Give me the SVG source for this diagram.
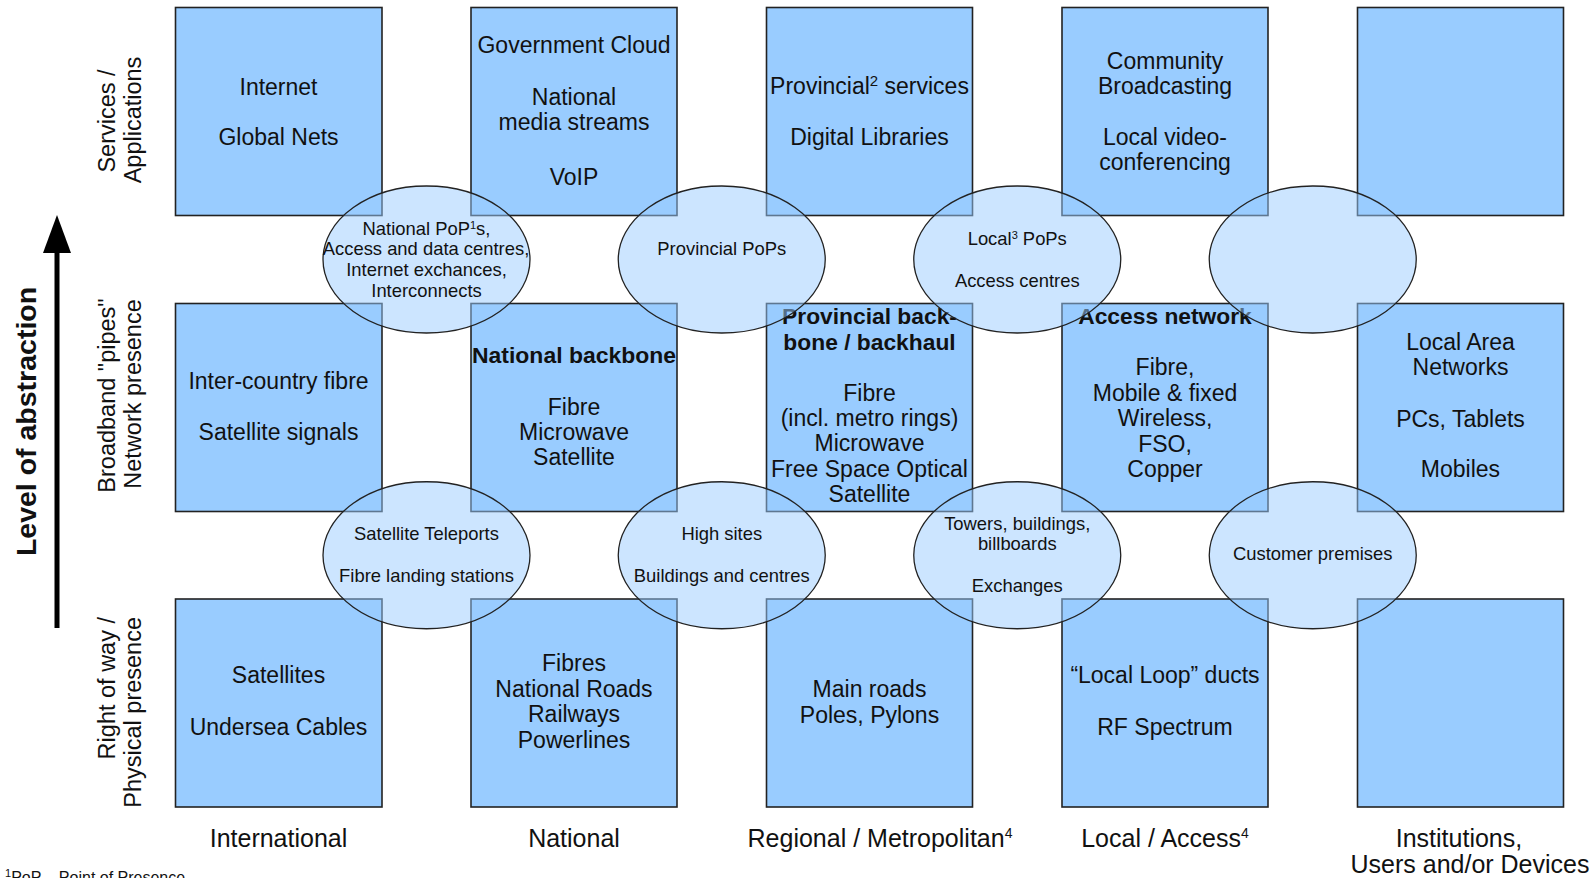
<svg xmlns="http://www.w3.org/2000/svg" width="1596" height="878" viewBox="0 0 1596 878">
<style>
  text { font-family: "Liberation Sans", Arial, sans-serif; fill: #111; }
  .t { font-size: 23px; text-anchor: middle; }
  .b { font-size: 22.8px; text-anchor: middle; font-weight: bold; }
  .e { font-size: 18.4px; text-anchor: middle; }
  .l { font-size: 25px; text-anchor: middle; }
  .r { font-size: 23.5px; text-anchor: middle; }
  .box { fill: #99ccff; stroke: #222; stroke-width: 1.6; }
  .ell { fill: #99ccff; fill-opacity: 0.5; stroke: #222; stroke-width: 1.3; }
</style>
<rect width="1596" height="878" fill="#ffffff"/>

<!-- axis -->
<g id="axis">
  <line x1="57" y1="628" x2="57" y2="250" stroke="#000" stroke-width="5"/>
  <polygon points="57,215 43,253 71,253" fill="#000"/>
  <text transform="translate(36,421.5) rotate(-90)" text-anchor="middle" font-size="28.5" font-weight="bold">Level of abstraction</text>
</g>

<!-- row labels -->
<g id="row-labels">
  <text class="r" transform="translate(114.5,121) rotate(-90)">Services /</text>
  <text class="r" transform="translate(140.5,120) rotate(-90)">Applications</text>
  <text class="r" transform="translate(114.5,395.5) rotate(-90)">Broadband "pipes"</text>
  <text class="r" transform="translate(140.5,394) rotate(-90)">Network presence</text>
  <text class="r" transform="translate(114.5,617) rotate(-90)" style="text-anchor:end">Right of way /</text>
  <text class="r" transform="translate(140.5,617) rotate(-90)" style="text-anchor:end">Physical presence</text>
</g>

<!-- row 1 -->
<g id="n-intl-services">
  <rect class="box" x="175.5" y="7.5" width="206.5" height="208"/>
  <text class="t" x="278.5" y="94.5">Internet</text>
  <text class="t" x="278.5" y="145">Global Nets</text>
</g>
<g id="n-natl-services">
  <rect class="box" x="471" y="7.5" width="206" height="208"/>
  <text class="t" x="574" y="53">Government Cloud</text>
  <text class="t" x="574" y="105">National</text>
  <text class="t" x="574" y="130">media streams</text>
  <text class="t" x="574" y="185">VoIP</text>
</g>
<g id="n-reg-services">
  <rect class="box" x="766.5" y="7.5" width="206" height="208"/>
  <text class="t" x="869.5" y="93.5">Provincial<tspan dy="-8" font-size="15">2</tspan><tspan dy="8"> services</tspan></text>
  <text class="t" x="869.5" y="145">Digital Libraries</text>
</g>
<g id="n-local-services">
  <rect class="box" x="1062" y="7.5" width="206" height="208"/>
  <text class="t" x="1165" y="68.5">Community</text>
  <text class="t" x="1165" y="93.5">Broadcasting</text>
  <text class="t" x="1165" y="145">Local video-</text>
  <text class="t" x="1165" y="170">conferencing</text>
</g>
<g id="n-inst-services">
  <rect class="box" x="1357.5" y="7.5" width="206" height="208"/>
</g>

<!-- row 2 -->
<g id="n-intl-pipes">
  <rect class="box" x="175.5" y="303.5" width="206.5" height="208"/>
  <text class="t" x="278.5" y="388.5">Inter-country fibre</text>
  <text class="t" x="278.5" y="439.5">Satellite signals</text>
</g>
<g id="n-natl-pipes">
  <rect class="box" x="471" y="303.5" width="206" height="208"/>
  <text class="b" x="574" y="363" textLength="204" lengthAdjust="spacingAndGlyphs">National backbone</text>
  <text class="t" x="574" y="415">Fibre</text>
  <text class="t" x="574" y="439.5">Microwave</text>
  <text class="t" x="574" y="464.5">Satellite</text>
</g>
<g id="n-reg-pipes">
  <rect class="box" x="766.5" y="303.5" width="206" height="208"/>
  <text class="b" x="869.5" y="324">Provincial back-</text>
  <text class="b" x="869.5" y="350">bone / backhaul</text>
  <text class="t" x="869.5" y="400.5">Fibre</text>
  <text class="t" x="869.5" y="425.5">(incl. metro rings)</text>
  <text class="t" x="869.5" y="451">Microwave</text>
  <text class="t" x="869.5" y="476.5">Free Space Optical</text>
  <text class="t" x="869.5" y="502">Satellite</text>
</g>
<g id="n-local-pipes">
  <rect class="box" x="1062" y="303.5" width="206" height="208"/>
  <text class="b" x="1165" y="324">Access network</text>
  <text class="t" x="1165" y="375">Fibre,</text>
  <text class="t" x="1165" y="400.5">Mobile &amp; fixed</text>
  <text class="t" x="1165" y="426">Wireless,</text>
  <text class="t" x="1165" y="451.5">FSO,</text>
  <text class="t" x="1165" y="477">Copper</text>
</g>
<g id="n-inst-pipes">
  <rect class="box" x="1357.5" y="303.5" width="206" height="208"/>
  <text class="t" x="1460.5" y="350">Local Area</text>
  <text class="t" x="1460.5" y="375">Networks</text>
  <text class="t" x="1460.5" y="426.5">PCs, Tablets</text>
  <text class="t" x="1460.5" y="477">Mobiles</text>
</g>

<!-- row 3 -->
<g id="n-intl-row">
  <rect class="box" x="175.5" y="599" width="206.5" height="208"/>
  <text class="t" x="278.5" y="683">Satellites</text>
  <text class="t" x="278.5" y="735">Undersea Cables</text>
</g>
<g id="n-natl-row">
  <rect class="box" x="471" y="599" width="206" height="208"/>
  <text class="t" x="574" y="671">Fibres</text>
  <text class="t" x="574" y="696.5">National Roads</text>
  <text class="t" x="574" y="722">Railways</text>
  <text class="t" x="574" y="747.5">Powerlines</text>
</g>
<g id="n-reg-row">
  <rect class="box" x="766.5" y="599" width="206" height="208"/>
  <text class="t" x="869.5" y="697">Main roads</text>
  <text class="t" x="869.5" y="722.5">Poles, Pylons</text>
</g>
<g id="n-local-row">
  <rect class="box" x="1062" y="599" width="206" height="208"/>
  <text class="t" x="1165" y="683">“Local Loop” ducts</text>
  <text class="t" x="1165" y="735">RF Spectrum</text>
</g>
<g id="n-inst-row">
  <rect class="box" x="1357.5" y="599" width="206" height="208"/>
</g>

<!-- ellipses (interfaces) -->
<g id="e-natl-pops">
  <ellipse class="ell" cx="426.5" cy="259.5" rx="103.5" ry="73.5"/>
  <text class="e" x="426.5" y="234.5">National PoP<tspan dy="-6" font-size="11">1</tspan><tspan dy="6">s,</tspan></text>
  <text class="e" x="426" y="255">Access and data centres,</text>
  <text class="e" x="426.5" y="276">Internet exchances,</text>
  <text class="e" x="426.5" y="296.5">Interconnects</text>
</g>
<g id="e-prov-pops">
  <ellipse class="ell" cx="721.75" cy="259.5" rx="103.5" ry="73.5"/>
  <text class="e" x="721.75" y="254.5">Provincial PoPs</text>
</g>
<g id="e-local-pops">
  <ellipse class="ell" cx="1017.25" cy="259.5" rx="103.5" ry="73.5"/>
  <text class="e" x="1017.25" y="245">Local<tspan dy="-6" font-size="11">3</tspan><tspan dy="6"> PoPs</tspan></text>
  <text class="e" x="1017.25" y="286.5">Access centres</text>
</g>
<g id="e-inst-pops">
  <ellipse class="ell" cx="1312.75" cy="259.5" rx="103.5" ry="73.5"/>
</g>
<g id="e-teleports">
  <ellipse class="ell" cx="426.5" cy="555.25" rx="103.5" ry="73.5"/>
  <text class="e" x="426.5" y="540">Satellite Teleports</text>
  <text class="e" x="426.5" y="581.5">Fibre landing stations</text>
</g>
<g id="e-high-sites">
  <ellipse class="ell" cx="721.75" cy="555.25" rx="103.5" ry="73.5"/>
  <text class="e" x="721.75" y="540">High sites</text>
  <text class="e" x="721.75" y="581.5">Buildings and centres</text>
</g>
<g id="e-towers">
  <ellipse class="ell" cx="1017.25" cy="555.25" rx="103.5" ry="73.5"/>
  <text class="e" x="1017.25" y="529.5">Towers, buildings,</text>
  <text class="e" x="1017.25" y="549.5">billboards</text>
  <text class="e" x="1017.25" y="591.5">Exchanges</text>
</g>
<g id="e-premises">
  <ellipse class="ell" cx="1312.75" cy="555.25" rx="103.5" ry="73.5"/>
  <text class="e" x="1312.75" y="560">Customer premises</text>
</g>

<!-- column labels -->
<g id="col-labels">
  <text class="l" x="278.5" y="846.5">International</text>
  <text class="l" x="574" y="846.5">National</text>
  <text class="l" x="880" y="847">Regional / Metropolitan<tspan dy="-9" font-size="14">4</tspan></text>
  <text class="l" x="1165" y="847">Local / Access<tspan dy="-9" font-size="14">4</tspan></text>
  <text class="l" x="1459" y="846.5">Institutions,</text>
  <text class="l" x="1470" y="873">Users and/or Devices</text>
</g>

<!-- footnote (cut off at bottom edge, as in the reference) -->
<g id="footnote">
  <text x="5" y="883" font-size="16"><tspan font-size="11" dy="-6">1</tspan><tspan dy="6">PoP – Point of Presence</tspan></text>
</g>
</svg>
